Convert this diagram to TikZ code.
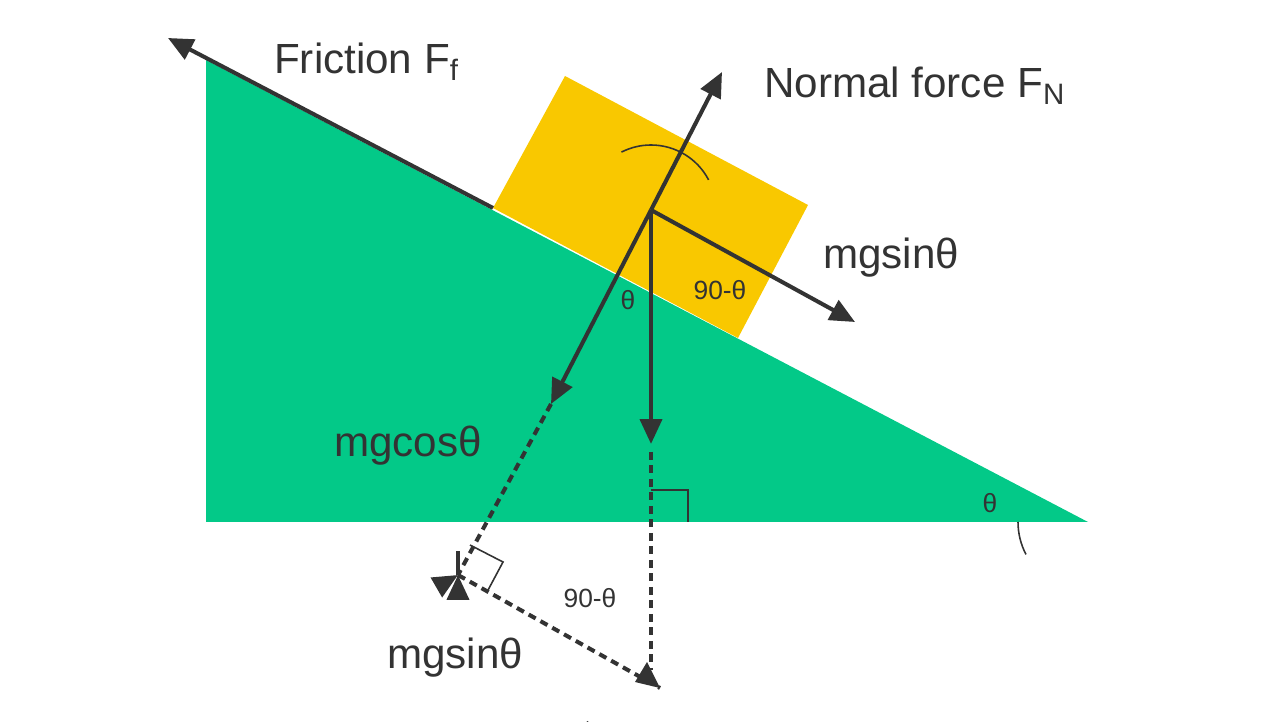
\documentclass[tikz,border=0pt]{standalone}
\usepackage{fontspec}
\setmainfont{Liberation Sans}
\usetikzlibrary{arrows.meta}
\definecolor{grn}{HTML}{03C988}
\definecolor{ylw}{HTML}{F9C800}
\definecolor{ink}{HTML}{333333}
\begin{document}
\begin{tikzpicture}[x=0.02cm,y=-0.02cm,
  vec/.style={draw=ink,line width=2.3pt,-{Triangle[length=0.5cm,width=0.44cm]}},
  dsh/.style={draw=ink,line width=2.3pt,dash pattern=on 0.16cm off 0.11cm},
  thin/.style={draw=ink,line width=0.9pt},
  big/.style={text=ink,font=\fontsize{24}{28}\selectfont},
  small/.style={text=ink,font=\fontsize{15}{18}\selectfont}]
\useasboundingbox (0,0) rectangle (1281,722);
\coordinate (TL) at (206,60); \coordinate (BL) at (206,522); \coordinate (BR) at (1088,522);
\fill[grn] (TL) -- (BL) -- (BR) -- cycle;
\fill[ylw] (493,208) -- (565,76) -- (808,205) -- (738,338) -- cycle;
\coordinate (O) at (651,210);
\coordinate (FB) at (493,208); \coordinate (FT) at (168,38);
\coordinate (N) at (722,72);
\coordinate (C) at (551,404);
\coordinate (S) at (855,322);
\coordinate (G) at (651,444);
\coordinate (CE) at (458,575);
\coordinate (GE) at (660,688);
% angle arcs
\draw[thin] (O) ++(243:65) arc[start angle=243,end angle=270,radius=65];
\draw[thin] (O) ++(270:65) arc[start angle=270,end angle=332.4,radius=65];
\draw[thin] (BR) ++(180:70) arc[start angle=180,end angle=152.4,radius=70];
\draw[thin] (651,688) ++(90:72) arc[start angle=90,end angle=152.4,radius=72];
% right angle marks
\draw[thin] (651,490) -- (688,490) -- (688,522);
\draw[thin] (470,545) -- (503,562) -- (487,592);
% dashed
\draw[dsh] (C) -- (CE);
\draw[dsh] (651,452) -- (651,670);
\draw[dsh] (CE) -- (GE);
\draw[vec] (458,575) -- (CE);
\draw[vec] (CE) ++(150:10) -- (CE);
\draw[draw=none,fill=ink] (GE) -- ++(-25,-6) -- ++(12,-20) -- cycle;
% vectors
\draw[vec] (FB) -- (FT);
\draw[vec] (O) -- (N);
\draw[vec] (O) -- (C);
\draw[vec] (O) -- (S);
\draw[vec] (O) -- (G);
% labels
\node[big,anchor=west] (lf) at (268,62) {Friction F\textsubscript{f}};
\node[big,anchor=west] (ln) at (758,86) {Normal force F\textsubscript{N}};
\node[big,anchor=west] (ls) at (817,258) {mgsinθ};
\node[big,anchor=west] (lc) at (328,446) {mgcosθ};
\node[big,anchor=west] (ls2) at (381,658) {mgsinθ};
\node[small] (t1) at (628,300) {θ};
\node[small] (t2) at (720,290) {90-θ};
\node[small] (t3) at (990,503) {θ};
\node[small] (t4) at (590,598) {90-θ};
\end{tikzpicture}
\end{document}
